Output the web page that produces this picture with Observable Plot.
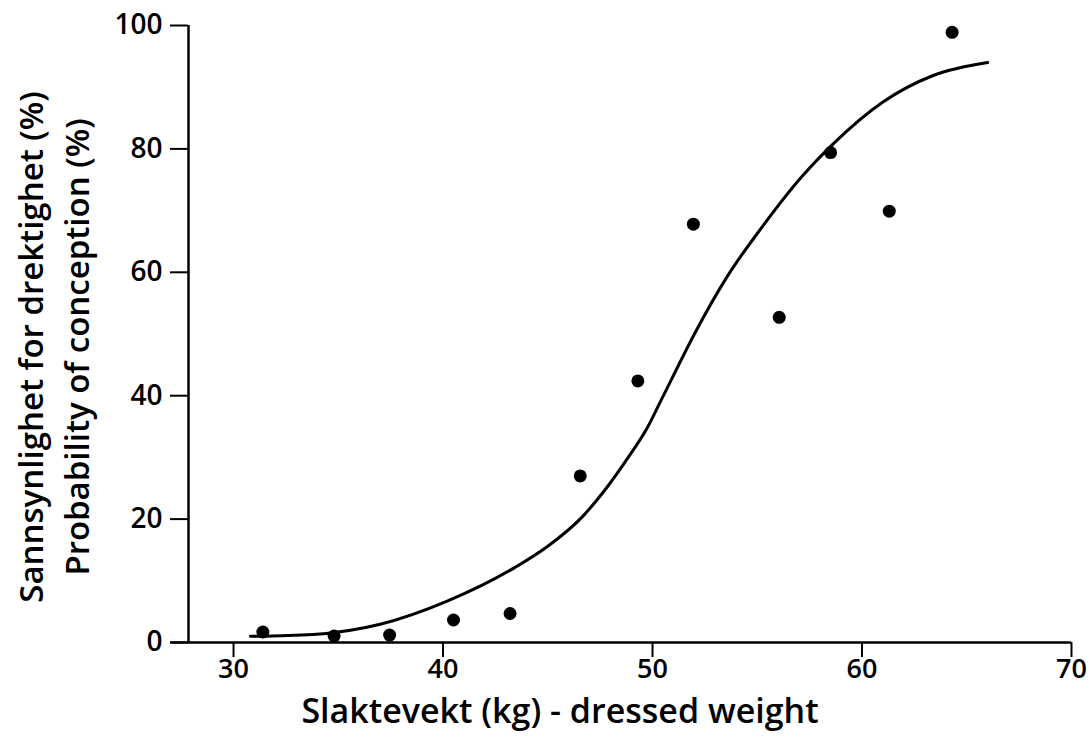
<!DOCTYPE html>
<html>
<head>
<meta charset="utf-8">
<script src="https://cdn.jsdelivr.net/npm/d3@7"></script>
<script src="https://cdn.jsdelivr.net/npm/@observablehq/plot@0.6"></script>
<style>
  html, body { margin: 0; padding: 0; background: #fff; }
  #chart svg { display: block; }
</style>
</head>
<body>
<div id="chart"></div>
<script>
// Observed points: dressed weight (kg) vs probability of conception (%)
const weightPts = [31.4, 34.8, 37.45, 40.5, 43.2, 46.55, 49.3, 51.95, 56.05, 58.5, 61.3, 64.3];
const probPts   = [1.7, 1.05, 1.2, 3.65, 4.7, 27.0, 42.4, 67.8, 52.7, 79.4, 69.9, 98.9];

// Fitted curve
const curveX = [30.8, 33.8, 37.0, 40.2, 43.4, 45.0, 46.6, 47.7, 48.8, 49.75, 50.4, 50.9, 52.0, 53.6, 55.2, 57.1, 58.65, 61.0, 63.4, 66.0];
const curveY = [1.0, 1.3, 2.95, 6.7, 12.1, 15.6, 20.2, 24.6, 29.8, 34.8, 39.2, 42.6, 50.0, 59.5, 67.2, 75.4, 80.9, 87.6, 91.9, 94.0];

const xTicks = [30, 40, 50, 60, 70];
const yTicks = [0, 20, 40, 60, 80, 100];

const xTitle = "Slaktevekt (kg) - dressed weight";
const yTitle = "Sannsynlighet for drektighet (%)\nProbability of conception (%)";

const points = weightPts.map((w, i) => ({w, p: probPts[i]}));
const curve = curveX.map((w, i) => ({w, p: curveY[i]}));

const xMin = 27.85;

const chart = Plot.plot({
  width: 1090,
  height: 740,
  marginLeft: 188,
  marginRight: 19,
  marginTop: 25,
  marginBottom: 98,
  style: {fontFamily: "'Open Sans', sans-serif", fontWeight: 600, color: "#000", background: "#fff"},
  x: {domain: [xMin, 70], ticks: xTicks},
  y: {domain: [0, 100], ticks: yTicks},
  marks: [
    Plot.axisX(xTicks, {tickSize: 15, tickPadding: 1, strokeWidth: 2, fontSize: 27, label: null}),
    Plot.axisY(yTicks, {tickSize: 18, tickPadding: 8, strokeWidth: 2, fontSize: 28, label: null}),
    Plot.ruleX([xMin], {y1: 0, y2: 100, strokeWidth: 2.5}),
    Plot.ruleY([0], {x1: xMin - 0.85, x2: 70, strokeWidth: 2.5}),
    Plot.line(curve, {x: "w", y: "p", curve: "monotone-x", strokeWidth: 3, stroke: "#000"}),
    Plot.dot(points, {x: "w", y: "p", r: 6.5, fill: "#000", stroke: "none"}),
    Plot.text([xTitle], {frameAnchor: "bottom", text: d => d, dy: 80, fontSize: 34, fontWeight: 600, dx: -70}),
    Plot.text([yTitle], {frameAnchor: "left", textAnchor: "middle", text: d => d, rotate: -90, dx: -137, dy: 13, fontSize: 33, fontWeight: 600, lineHeight: 1.39, lineAnchor: "middle"})
  ]
});
document.getElementById("chart").appendChild(chart);
</script>
</body>
</html>
